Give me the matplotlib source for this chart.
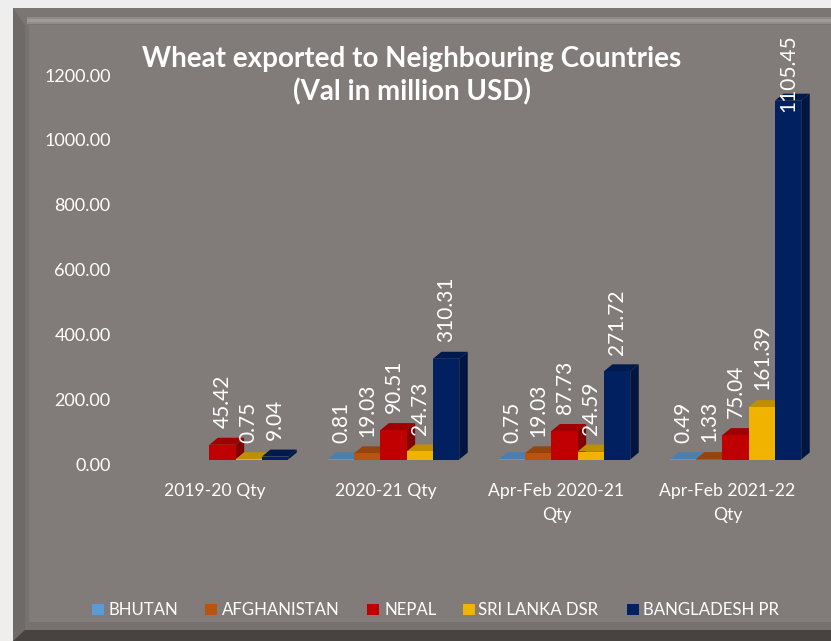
import numpy as np
import matplotlib
matplotlib.use('Agg')
import matplotlib.pyplot as plt
from matplotlib.patches import Polygon, Rectangle
from matplotlib.transforms import offset_copy

plt.rcParams['font.family'] = ['Lato', 'DejaVu Sans']

periods = ['2019-20 Qty', '2020-21 Qty', 'Apr-Feb 2020-21\nQty', 'Apr-Feb 2021-22\nQty']
countries = ['BHUTAN', 'AFGHANISTAN', 'NEPAL', 'SRI LANKA DSR', 'BANGLADESH PR']
bhutan = [0, 0.81, 0.75, 0.49]
afghanistan = [0, 19.03, 19.03, 1.33]
nepal = [45.42, 90.51, 87.73, 75.04]
sri_lanka = [0.75, 24.73, 24.59, 161.39]
bangladesh = [9.04, 310.31, 271.72, 1105.45]
series = [bhutan, afghanistan, nepal, sri_lanka, bangladesh]
labels = [
    [None, None, '45.42', '0.75', '9.04'],
    ['0.81', '19.03', '90.51', '24.73', '310.31'],
    ['0.75', '19.03', '87.73', '24.59', '271.72'],
    ['0.49', '1.33', '75.04', '161.39', '1105.45'],
]
# front, top, side
colors = [('#5b9bd5', '#4a80b0', '#3d6b94'),
          ('#b85410', '#96440d', '#7a370a'),
          ('#c00000', '#a00000', '#800000'),
          ('#f0b400', '#bf8f00', '#a07800'),
          ('#002060', '#001a50', '#001540')]

W, H = 831, 641
BG = '#817c79'
fig = plt.figure(figsize=(W / 100, H / 100), dpi=100, facecolor='#eeeeee')

# frame drawn in pixel coords, y down
frame = fig.add_axes([0, 0, 1, 1])
frame.set_xlim(0, W)
frame.set_ylim(H, 0)
frame.axis('off')
frame.add_patch(Rectangle((13, 8), W, H, fc='#6e6a67', ec='none'))
frame.add_patch(Polygon([(13, 8), (W, 8), (W, 25), (25, 25)], fc='#7b7673', ec='none'))
frame.add_patch(Rectangle((27, 17), W, 7, fc='#918c89', ec='none'))
frame.add_patch(Rectangle((27, 19), W, 3, fc='#a09b98', ec='none'))
frame.add_patch(Polygon([(13, 641), (25, 630), (W, 630), (W, 641)], fc='#464340', ec='none'))
frame.add_patch(Rectangle((25, 25), W, 605, fc=BG, ec='none'))
frame.add_patch(Rectangle((25, 622), W, 8, fc='#77716f', ec='none'))
frame.add_patch(Rectangle((25, 25), 4, 600, fc='#767270', ec='none'))

# y=0 at pixel 459.5, y=1200 at pixel 70; groups are 171 px apart
ax = fig.add_axes([137 / W, (H - 459.5) / H, 684 / W, 389.5 / H])
ax.patch.set_alpha(0)
ax.set_xlim(-0.5, 3.5)
ax.set_ylim(0, 1200)
for s in ax.spines.values():
    s.set_visible(False)

bar_w = 26.3 / 171
dx = 8.5 / 171
dy = 7 * 1200 / 389.5
for k, vals in enumerate(series):
    front, top, side = colors[k]
    xs = np.arange(4) + (k - 2) * bar_w
    for x, v in zip(xs, vals):
        if v == 0:
            continue
        l, r = x - bar_w / 2, x + bar_w / 2
        ax.add_patch(Polygon([(r, 0), (r + dx, dy), (r + dx, v + dy), (r, v)], fc=side, ec='none', zorder=2 + k))
        ax.add_patch(Polygon([(l, v), (r, v), (r + dx, v + dy), (l + dx, v + dy)], fc=top, ec='none', zorder=2 + k))
    ax.bar(xs, vals, bar_w, color=front, zorder=2 + k, label=countries[k])

for i, row in enumerate(labels):
    for k, txt in enumerate(row):
        if txt is None:
            continue
        # the tallest label is pushed down into its bar, the chart had no room above
        off = -8.5 if txt == '1105.45' else 12
        ax.annotate(txt, (i + (k - 2) * bar_w, series[k][i]), xytext=(0, off), textcoords='offset points',
                    rotation=90, ha='center', va='bottom', color='white', fontsize=15, zorder=20,
                    annotation_clip=False)

ax.set_yticks(np.arange(0, 1201, 200))
ax.set_yticklabels(['%.2f' % t for t in np.arange(0, 1201, 200)])
ax.set_xticks(range(4))
ax.set_xticklabels(periods, linespacing=1.6)
ax.tick_params(axis='y', length=0, pad=19, labelsize=13, labelcolor='white')
ax.tick_params(axis='x', length=0, pad=17, labelsize=12.6, labelcolor='white')
for t in ax.get_yticklabels():
    t.set_transform(offset_copy(t.get_transform(), fig=fig, y=-5, units='dots'))
for t in ax.get_xticklabels():
    t.set_transform(offset_copy(t.get_transform(), fig=fig, x=-8, units='dots'))

frame.text(412, 76, 'Wheat exported to Neighbouring Countries\n(Val in million USD)', ha='center', va='center',
           color='white', fontsize=20, fontweight='bold', linespacing=1.3)

# legend placed by hand to match spacing
legend_x = [92, 205, 367, 463, 627]
legend_tx = [109, 221.5, 384, 478.5, 643]
for name, lx, tx, c in zip(countries, legend_x, legend_tx, colors):
    frame.add_patch(Rectangle((lx, 604), 12, 11, fc=c[0], ec='none'))
    frame.text(tx, 610, name, color='white', fontsize=12.1, va='center', ha='left')

fig.savefig('out.png', dpi=100, facecolor=fig.get_facecolor())
